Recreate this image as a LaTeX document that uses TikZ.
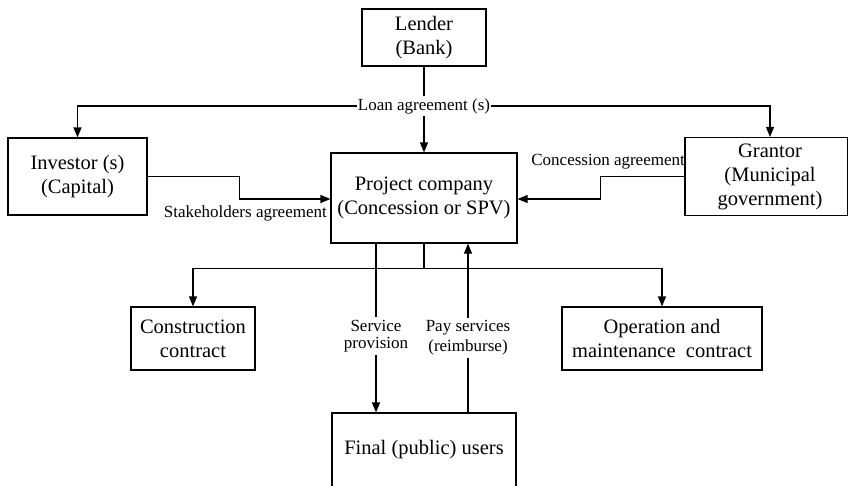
\documentclass[tikz,border=0pt]{standalone}
\usepackage{fontspec}
\setmainfont{Liberation Serif}
\usetikzlibrary{arrows.meta}
\tikzset{
  box/.style={draw, line width=1.2pt, inner sep=0pt, align=center,
    font=\fontsize{20.5}{24}\selectfont},
  lbl/.style={inner xsep=1pt, inner ysep=2.5pt, align=center,
    font=\fontsize{17}{18}\selectfont},
  conn/.style={line width=1.2pt},
  arr/.style={conn, -{Triangle[length=10pt,width=8pt]}}
}
\begin{document}
\begin{tikzpicture}[x=1pt,y=-1pt]
\useasboundingbox (0,0) rectangle (848,485);

% parties
\node[box, minimum width=124pt, minimum height=57pt] (lender) at (424,37.5) {Lender\\(Bank)};
\node[box, minimum width=139pt, minimum height=77pt] (investor) at (77.5,176.5) {Investor (s)\\(Capital)};
\node[box, minimum width=186pt, minimum height=90pt] (project) at (424,198) {Project company\\(Concession or SPV)};
\node[box, minimum width=163pt, minimum height=78pt] (grantor) at (766.5,176.5) {\hspace*{7pt}Grantor\\\hspace*{7pt}(Municipal\\\hspace*{7pt}government)};
\node[box, minimum width=124pt, minimum height=63pt] (construction) at (193,338.5) {Construction\\contract};
\node[box, minimum width=200pt, minimum height=63pt] (om) at (662,338.5) {Operation and\\maintenance\ \ contract};
\node[box, minimum width=184pt, minimum height=74pt] (users) at (424,450) {Final (public) users};

% agreement labels
\node[lbl] (loan) at (424,106) {Loan agreement (s)};
\node[lbl, anchor=east] (stake) at (328,213) {Stakeholders agreement};
\node[lbl, anchor=east] (conc) at (686,162) {Concession agreement};
\node[lbl, font=\fontsize{17}{17}\selectfont] (sp) at (376,336) {Service\\provision};
\node[lbl, font=\fontsize{17}{20}\selectfont] (ps) at (468,338) {Pay services\\(reimburse)};

% loan agreements
\draw[conn] (lender.south) -- (loan.north);
\draw[arr] (loan.south) -- (project.north);
\draw[arr] (loan.west) -| (investor.north);
\draw[arr] (loan.east) -| ([xshift=3.5pt]grantor.north);

% equity and concession
\draw[arr] (investor.east) -- ++(91.5,0) |- ([yshift=-1pt]project.west);
\draw[arr] (grantor.west) -- ++(-84,0) |- ([yshift=-1pt]project.east);

% contracts
\coordinate (split) at ([yshift=-25pt]project.south);
\draw[conn] (project.south) -- (split);
\draw[arr] (split) -| (construction.north);
\draw[arr] (split) -| (om.north);

% services and payment
\draw[conn] (sp.north |- project.south) -- (sp.north);
\draw[arr] (sp.south) -- (sp.south |- users.north);
\draw[conn] (ps.south |- users.north) -- (ps.south);
\draw[arr] (ps.north) -- (ps.north |- project.south);
\end{tikzpicture}
\end{document}
